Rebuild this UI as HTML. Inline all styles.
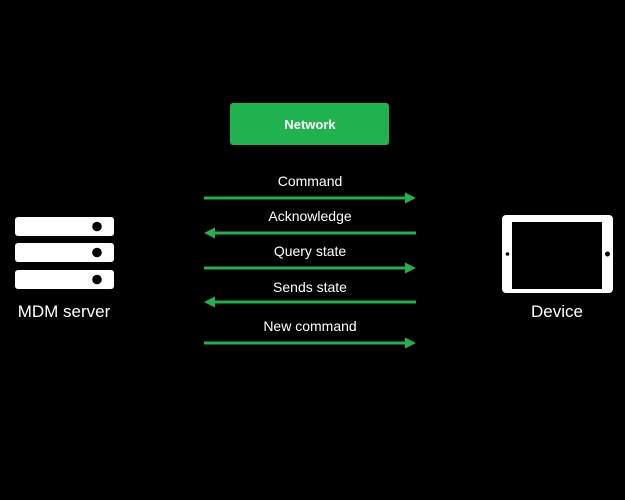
<!DOCTYPE html>
<html><head><style>
html,body{margin:0;padding:0;background:#000;}
body{width:625px;height:500px;overflow:hidden;position:relative;font-family:"Liberation Sans",sans-serif;}
</style></head><body>
<svg width="625" height="500" viewBox="0 0 625 500" xmlns="http://www.w3.org/2000/svg" style="position:absolute;left:0;top:0">
<rect width="625" height="500" fill="#000"/>
<rect x="230" y="103" width="159" height="42" rx="3" fill="#20b24e"/>
<text x="310" y="129" fill="#fff" font-family="Liberation Sans, sans-serif" font-size="13" font-weight="bold" text-anchor="middle">Network</text>
<!-- server -->
<rect x="15" y="217" width="99" height="19" rx="3" fill="#fff"/>
<rect x="15" y="243" width="99" height="19" rx="3" fill="#fff"/>
<rect x="15" y="270" width="99" height="19" rx="3" fill="#fff"/>
<circle cx="97" cy="226.5" r="4.8" fill="#000"/>
<circle cx="97" cy="252.5" r="4.8" fill="#000"/>
<circle cx="97" cy="279.5" r="4.8" fill="#000"/>
<text x="64" y="317" fill="#fff" font-family="Liberation Sans, sans-serif" font-size="17" text-anchor="middle">MDM server</text>
<!-- device -->
<rect x="502" y="215" width="111" height="78" rx="4" fill="#fff"/>
<rect x="512" y="222" width="90" height="67" fill="#000"/>
<circle cx="507.5" cy="254" r="1.8" fill="#000"/>
<circle cx="607.5" cy="254" r="2.5" fill="#000"/>
<text x="557" y="317" fill="#fff" font-family="Liberation Sans, sans-serif" font-size="17" text-anchor="middle">Device</text>
<g fill="#20b24e" stroke="none">
<rect x="204" y="196.5" width="204" height="3"/><polygon points="416,198 405,192.5 405,203.5"/>
<rect x="212" y="231.5" width="204" height="3"/><polygon points="204,233 215,227.5 215,238.5"/>
<rect x="204" y="266.5" width="204" height="3"/><polygon points="416,268 405,262.5 405,273.5"/>
<rect x="212" y="300.5" width="204" height="3"/><polygon points="204,302 215,296.5 215,307.5"/>
<rect x="204" y="341.5" width="204" height="3"/><polygon points="416,343 405,337.5 405,348.5"/>
</g>
<g fill="#fff" font-family="Liberation Sans, sans-serif" font-size="14" text-anchor="middle">
<text x="310" y="186">Command</text>
<text x="310" y="221">Acknowledge</text>
<text x="310" y="256">Query state</text>
<text x="310" y="292">Sends state</text>
<text x="310" y="331">New command</text>
</g>
</svg>
</body></html>
